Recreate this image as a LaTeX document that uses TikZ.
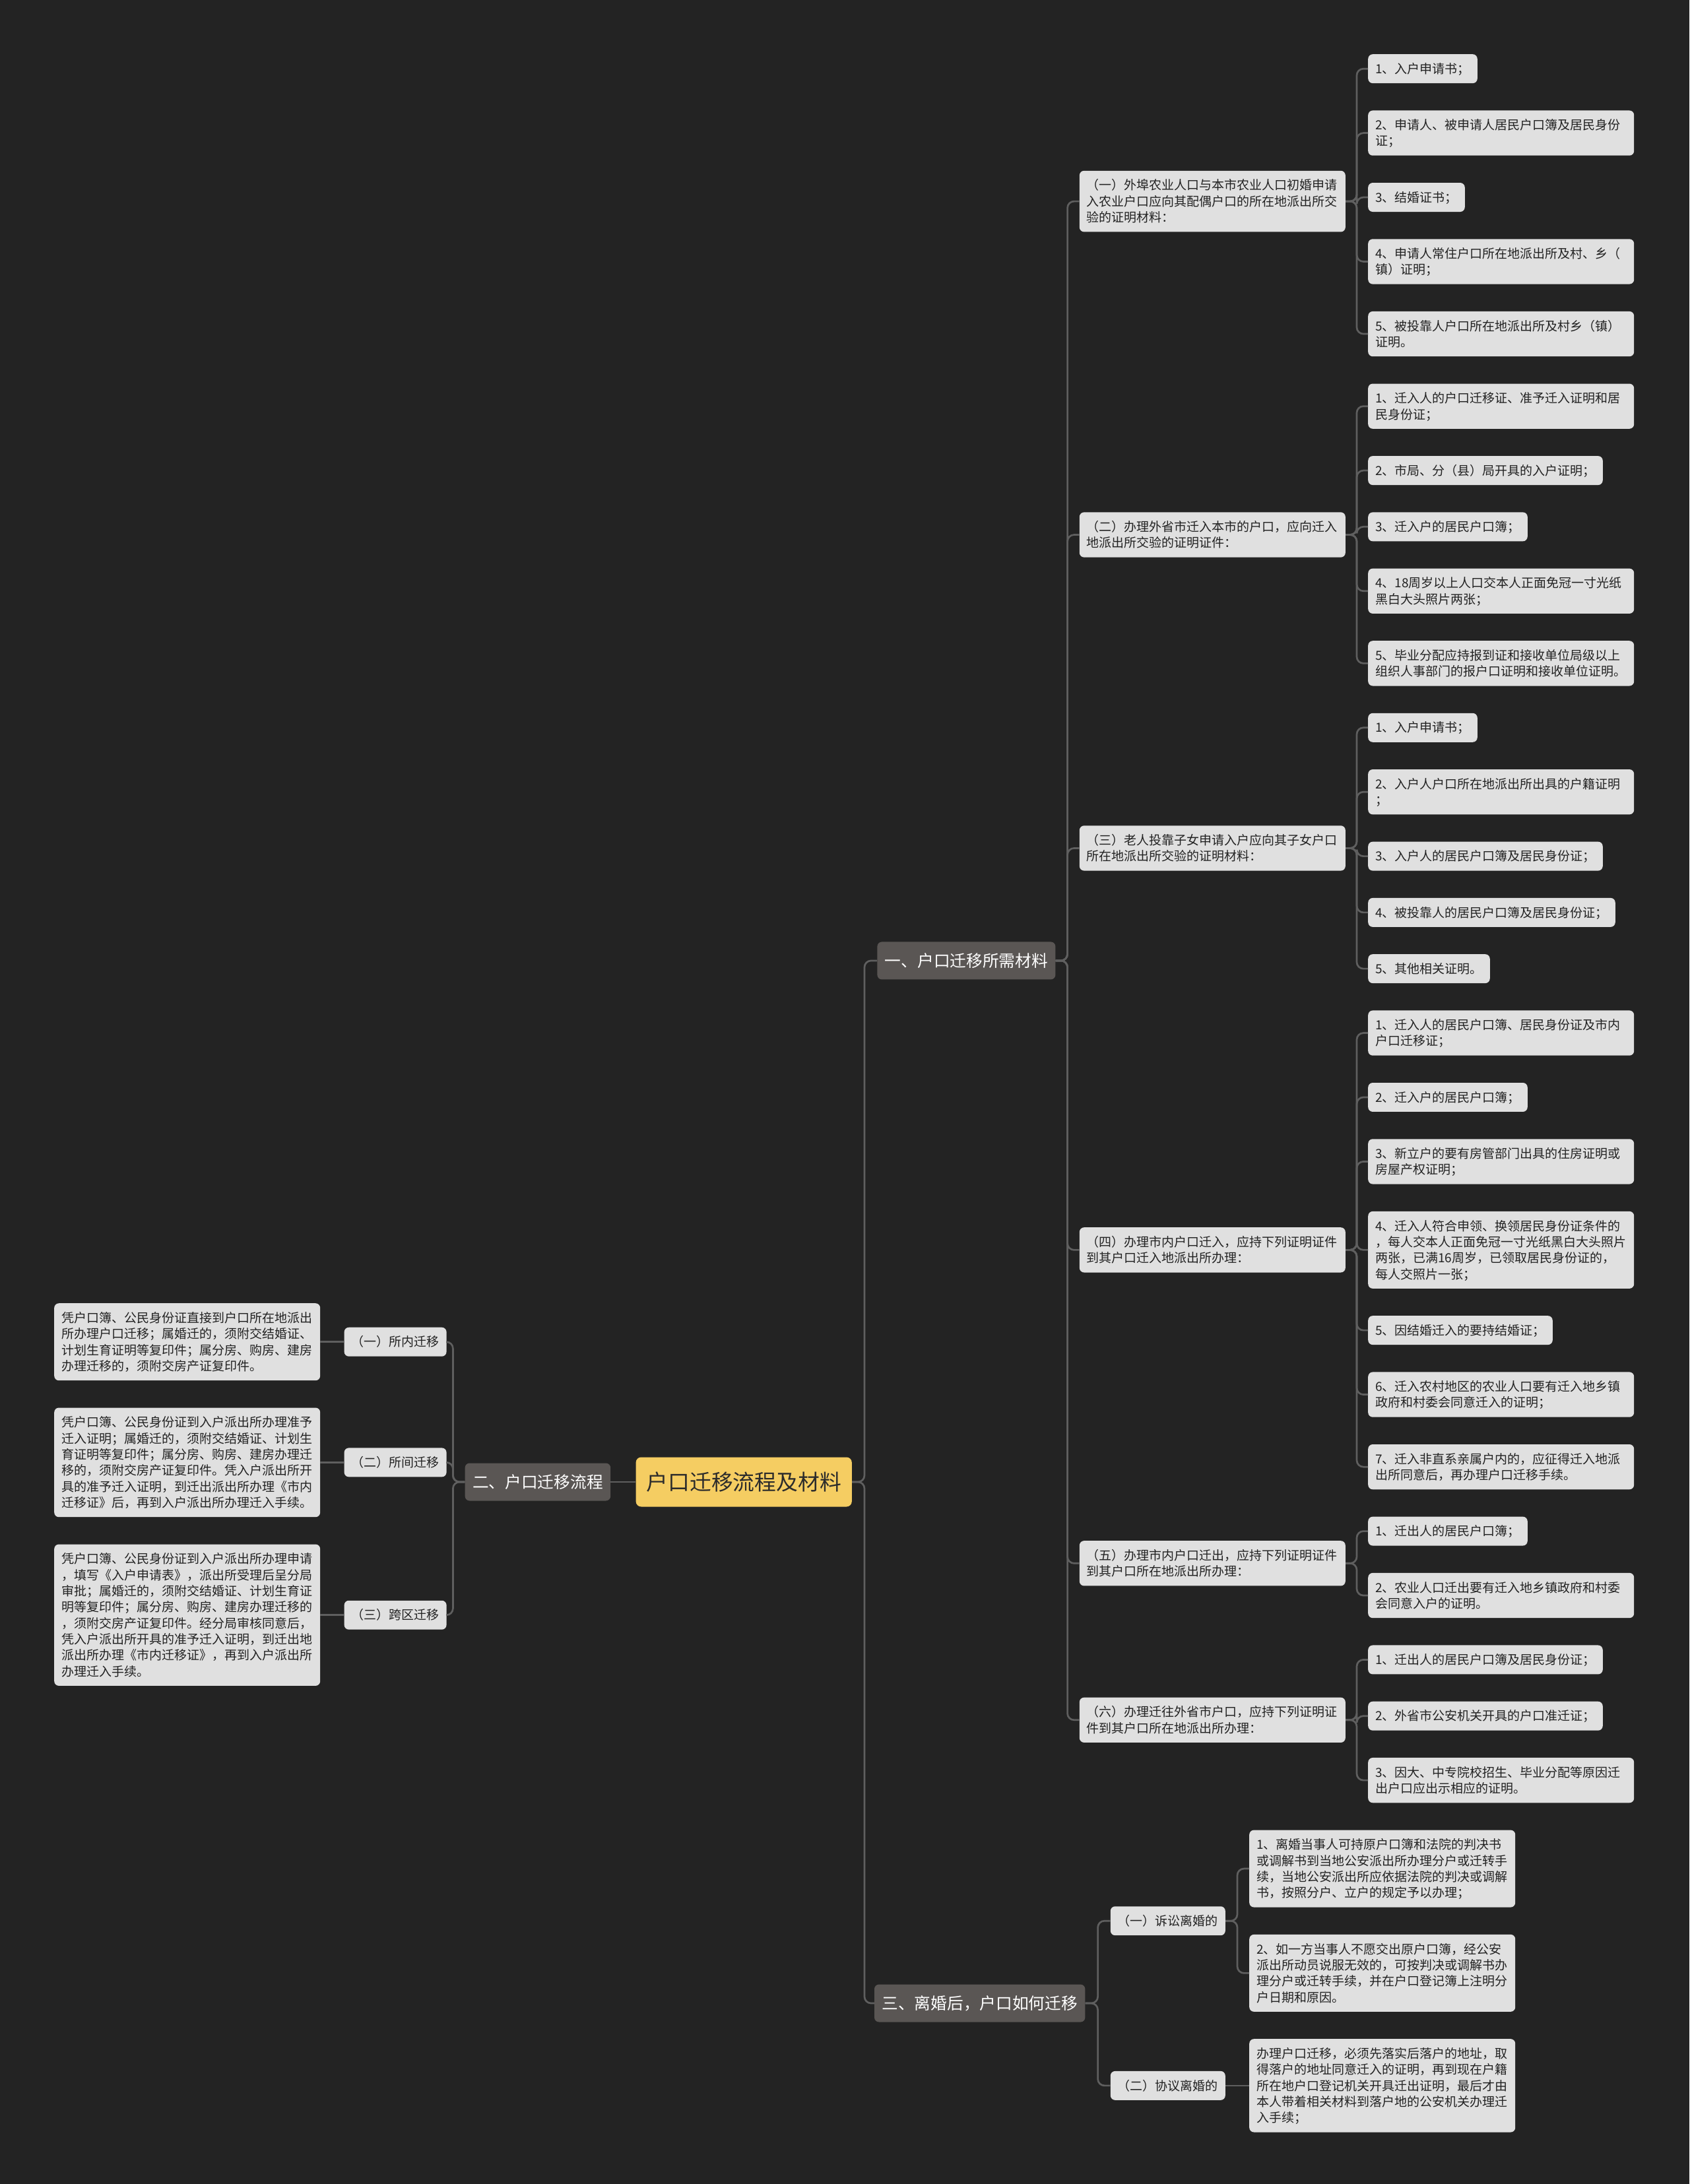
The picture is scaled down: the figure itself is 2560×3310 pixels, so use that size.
\documentclass[tikz,border=0pt]{standalone}
\usepackage{fontspec}
\setmainfont{Noto Sans CJK SC}
\usetikzlibrary{positioning,calc}
\definecolor{bgdark}{HTML}{232323}
\definecolor{leafgray}{HTML}{E0E0E0}
\definecolor{leaftext}{HTML}{222222}
\definecolor{branchgray}{HTML}{5A5654}
\definecolor{rootyellow}{HTML}{F5CD62}
\definecolor{roottext}{HTML}{2B2B2B}
\definecolor{linkgray}{HTML}{5F5F5F}
\newcommand\lstrut{\rule[-5pt]{0pt}{24.35pt}}

\begin{document}
\begin{tikzpicture}[node distance=40.9pt]
\tikzstyle{leaf}=[fill=leafgray,text=leaftext,rounded corners=7pt,inner xsep=11pt,inner ysep=9.8pt,align=left,font=\fontsize{19pt}{24.35pt}\selectfont,execute at begin node=\lstrut,execute at end node=\lstrut]
\tikzstyle{wide}=[leaf,text width=381pt]
\tikzstyle{branch}=[fill=branchgray,text=white,rounded corners=7pt,inner xsep=11.5pt,inner ysep=10pt,font=\fontsize{24.7pt}{30pt}\selectfont,text height=27.9pt,text depth=9.1pt]
\tikzstyle{root}=[fill=rootyellow,text=roottext,rounded corners=8pt,inner xsep=16pt,inner ysep=14pt,font=\fontsize{32.8pt}{40pt}\selectfont,text height=36pt,text depth=11pt]
\tikzstyle{link}=[draw=linkgray,line width=2.7pt,rounded corners=10pt]
\useasboundingbox (0,0) rectangle (2560pt,-3310pt);
\fill[bgdark] (0,0) rectangle (2560pt,-3310pt);

\node[leaf,anchor=north west] (a11) at (2073pt,-82pt) {1、入户申请书；};
\node[wide,below=of a11.south west,anchor=north west] (a12) {2、申请人、被申请人居民户口簿及居民身份\\证；};
\node[leaf,below=of a12.south west,anchor=north west] (a13) {3、结婚证书；};
\node[wide,below=of a13.south west,anchor=north west] (a14) {4、申请人常住户口所在地派出所及村、乡（\\镇）证明；};
\node[wide,below=of a14.south west,anchor=north west] (a15) {5、被投靠人户口所在地派出所及村乡（镇）\\证明。};
\node[wide,below=of a15.south west,anchor=north west] (a21) {1、迁入人的户口迁移证、准予迁入证明和居\\民身份证；};
\node[leaf,below=of a21.south west,anchor=north west] (a22) {2、市局、分（县）局开具的入户证明；};
\node[leaf,below=of a22.south west,anchor=north west] (a23) {3、迁入户的居民户口簿；};
\node[wide,below=of a23.south west,anchor=north west] (a24) {4、18周岁以上人口交本人正面免冠一寸光纸\\黑白大头照片两张；};
\node[wide,below=of a24.south west,anchor=north west] (a25) {5、毕业分配应持报到证和接收单位局级以上\\组织人事部门的报户口证明和接收单位证明。};
\node[leaf,below=of a25.south west,anchor=north west] (a31) {1、入户申请书；};
\node[wide,below=of a31.south west,anchor=north west] (a32) {2、入户人户口所在地派出所出具的户籍证明\\；};
\node[leaf,below=of a32.south west,anchor=north west] (a33) {3、入户人的居民户口簿及居民身份证；};
\node[leaf,below=of a33.south west,anchor=north west] (a34) {4、被投靠人的居民户口簿及居民身份证；};
\node[leaf,below=of a34.south west,anchor=north west] (a35) {5、其他相关证明。};
\node[wide,below=of a35.south west,anchor=north west] (a41) {1、迁入人的居民户口簿、居民身份证及市内\\户口迁移证；};
\node[leaf,below=of a41.south west,anchor=north west] (a42) {2、迁入户的居民户口簿；};
\node[wide,below=of a42.south west,anchor=north west] (a43) {3、新立户的要有房管部门出具的住房证明或\\房屋产权证明；};
\node[wide,below=of a43.south west,anchor=north west] (a44) {4、迁入人符合申领、换领居民身份证条件的\\，每人交本人正面免冠一寸光纸黑白大头照片\\两张，已满16周岁，已领取居民身份证的，\\每人交照片一张；};
\node[leaf,below=of a44.south west,anchor=north west] (a45) {5、因结婚迁入的要持结婚证；};
\node[wide,below=of a45.south west,anchor=north west] (a46) {6、迁入农村地区的农业人口要有迁入地乡镇\\政府和村委会同意迁入的证明；};
\node[wide,below=of a46.south west,anchor=north west] (a47) {7、迁入非直系亲属户内的，应征得迁入地派\\出所同意后，再办理户口迁移手续。};
\node[leaf,below=of a47.south west,anchor=north west] (a51) {1、迁出人的居民户口簿；};
\node[wide,below=of a51.south west,anchor=north west] (a52) {2、农业人口迁出要有迁入地乡镇政府和村委\\会同意入户的证明。};
\node[leaf,below=of a52.south west,anchor=north west] (a61) {1、迁出人的居民户口簿及居民身份证；};
\node[leaf,below=of a61.south west,anchor=north west] (a62) {2、外省市公安机关开具的户口准迁证；};
\node[wide,below=of a62.south west,anchor=north west] (a63) {3、因大、中专院校招生、毕业分配等原因迁\\出户口应出示相应的证明。};

\node[wide,anchor=east] (s1) at ($(a11.west)!.5!(a15.west)+(-34pt,0)$) {（一）外埠农业人口与本市农业人口初婚申请\\入农业户口应向其配偶户口的所在地派出所交\\验的证明材料：};
\node[wide,anchor=east] (s2) at ($(a21.west)!.5!(a25.west)+(-34pt,0)$) {（二）办理外省市迁入本市的户口，应向迁入\\地派出所交验的证明证件：};
\node[wide,anchor=east] (s3) at ($(a31.west)!.5!(a35.west)+(-34pt,0)$) {（三）老人投靠子女申请入户应向其子女户口\\所在地派出所交验的证明材料：};
\node[wide,anchor=east] (s4) at ($(a41.west)!.5!(a47.west)+(-34pt,0)$) {（四）办理市内户口迁入，应持下列证明证件\\到其户口迁入地派出所办理：};
\node[wide,anchor=east] (s5) at ($(a51.west)!.5!(a52.west)+(-34pt,0)$) {（五）办理市内户口迁出，应持下列证明证件\\到其户口所在地派出所办理：};
\node[wide,anchor=east] (s6) at ($(a61.west)!.5!(a63.west)+(-34pt,0)$) {（六）办理迁往外省市户口，应持下列证明证\\件到其户口所在地派出所办理：};
\node[branch,anchor=east] (b1) at ($(s1.west)!.5!(s6.west)+(-36pt,0)$) {一、户口迁移所需材料};

\node[wide,below=of a63.south west,anchor=north west,xshift=-180pt] (c1) {1、离婚当事人可持原户口簿和法院的判决书\\或调解书到当地公安派出所办理分户或迁转手\\续，当地公安派出所应依据法院的判决或调解\\书，按照分户、立户的规定予以办理；};
\node[wide,below=of c1.south west,anchor=north west] (c2) {2、如一方当事人不愿交出原户口簿，经公安\\派出所动员说服无效的，可按判决或调解书办\\理分户或迁转手续，并在户口登记簿上注明分\\户日期和原因。};
\node[wide,below=of c2.south west,anchor=north west] (c3) {办理户口迁移，必须先落实后落户的地址，取\\得落户的地址同意迁入的证明，再到现在户籍\\所在地户口登记机关开具迁出证明，最后才由\\本人带着相关材料到落户地的公安机关办理迁\\入手续；};
\node[leaf,anchor=east] (k1) at ($(c1.west)!.5!(c2.west)+(-36pt,0)$) {（一）诉讼离婚的};
\node[leaf,left=36pt of c3] (k2) {（二）协议离婚的};
\node[branch,anchor=east] (b3) at ($(k1.west)!.5!(k2.west)+(-38pt,0)$) {三、离婚后，户口如何迁移};

\node[root,anchor=east] (root) at ($(b1.west)!.5!(b3.west)+(-36pt,0)$) {户口迁移流程及材料};
\node[branch,left=38pt of root] (b2) {二、户口迁移流程};

\node[wide,anchor=north west] (d1) at (82pt,-1975pt) {凭户口簿、公民身份证直接到户口所在地派出\\所办理户口迁移；属婚迁的，须附交结婚证、\\计划生育证明等复印件；属分房、购房、建房\\办理迁移的，须附交房产证复印件。};
\node[wide,below=of d1.south west,anchor=north west] (d2) {凭户口簿、公民身份证到入户派出所办理准予\\迁入证明；属婚迁的，须附交结婚证、计划生\\育证明等复印件；属分房、购房、建房办理迁\\移的，须附交房产证复印件。凭入户派出所开\\具的准予迁入证明，到迁出派出所办理《市内\\迁移证》后，再到入户派出所办理迁入手续。};
\node[wide,below=of d2.south west,anchor=north west] (d3) {凭户口簿、公民身份证到入户派出所办理申请\\，填写《入户申请表》，派出所受理后呈分局\\审批；属婚迁的，须附交结婚证、计划生育证\\明等复印件；属分房、购房、建房办理迁移的\\，须附交房产证复印件。经分局审核同意后，\\凭入户派出所开具的准予迁入证明，到迁出地\\派出所办理《市内迁移证》，再到入户派出所\\办理迁入手续。};
\node[leaf,right=36pt of d1] (m1) {（一）所内迁移};
\node[leaf,right=36pt of d2] (m2) {（二）所间迁移};
\node[leaf,right=36pt of d3] (m3) {（三）跨区迁移};

\draw[link] (root.west) -- (b2.east);
\foreach \n in {b1,b3} \draw[link] (root.east) -- ++(19pt,0) |- (\n.west);
\foreach \i in {1,...,6} \draw[link] (b1.east) -- ++(18pt,0) |- (s\i.west);
\foreach \s/\n in {1/5,2/5,3/5,4/7,5/2,6/3}
  \foreach \i in {1,...,\n} \draw[link] (s\s.east) -- ++(17pt,0) |- (a\s\i.west);
\foreach \i in {1,2,3} \draw[link] (b2.west) -- ++(-18pt,0) |- (m\i.east);
\foreach \i in {1,2,3} \draw[link] (m\i.west) -- (d\i.east);
\foreach \i in {1,2} \draw[link] (b3.east) -- ++(19pt,0) |- (k\i.west);
\foreach \i in {1,2} \draw[link] (k1.east) -- ++(18pt,0) |- (c\i.west);
\draw[link] (k2.east) -- (c3.west);
\end{tikzpicture}
\end{document}
